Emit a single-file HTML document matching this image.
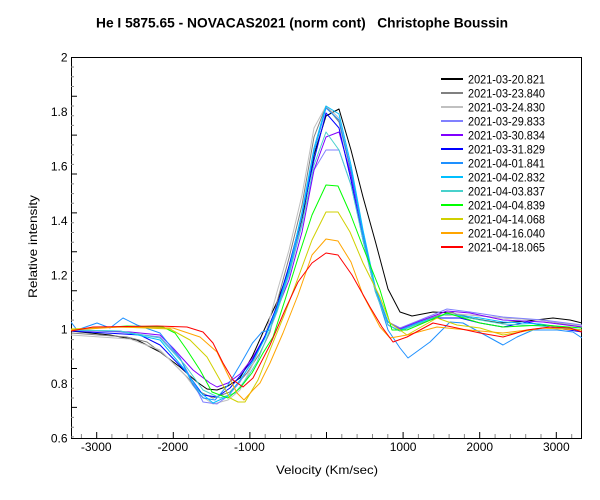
<!DOCTYPE html>
<html><head><meta charset="utf-8"><style>
html,body{margin:0;padding:0;background:#fff;}
svg{display:block;font-family:"Liberation Sans",Arial,sans-serif;}
text{white-space:pre;}
</style></head><body>
<svg width="600" height="500" viewBox="0 0 600 500" xmlns="http://www.w3.org/2000/svg">
<rect width="600" height="500" fill="#fff"/>
<defs><clipPath id="pc"><rect x="71" y="57" width="511" height="382"/></clipPath></defs>

<text x="96" y="27.3" font-size="14" font-weight="bold" textLength="412" lengthAdjust="spacingAndGlyphs">He I 5875.65 - NOVACAS2021 (norm cont)   Christophe Boussin</text>

<!-- frame -->
<rect x="71.5" y="57.5" width="510" height="381" fill="none" stroke="#000" stroke-width="1"/>

<!-- y ticks -->
<g stroke="#888" stroke-width="1">
<path d="M71 67.0h3M71 76.7h3M71 86.5h3M71 106.0h3M71 115.7h3M71 125.4h3M71 144.9h3M71 154.7h3M71 164.4h3M71 183.9h3M71 193.6h3M71 203.3h3M71 222.8h3M71 232.5h3M71 242.3h3M71 261.7h3M71 271.5h3M71 281.2h3M71 300.7h3M71 310.4h3M71 320.1h3M71 339.6h3M71 349.3h3M71 359.1h3M71 378.5h3M71 388.3h3M71 398.0h3M71 417.4h3M71 427.2h3M71 436.9h3"/>
</g>
<g stroke="#000" stroke-width="1">
<path d="M71 96.2h6M71 135.1h6M71 174.0h6M71 212.9h6M71 251.8h6M71 290.7h6M71 329.6h6M71 368.5h6M71 407.4h6"/>
</g>
<!-- x ticks -->
<g stroke="#888" stroke-width="1">
<path d="M81.4 438v-4M111.9 438v-4M127.3 438v-4M142.6 438v-4M157.9 438v-4M188.6 438v-4M203.9 438v-4M219.2 438v-4M234.6 438v-4M265.2 438v-4M280.5 438v-4M295.9 438v-4M311.2 438v-4M341.8 438v-4M357.1 438v-4M372.5 438v-4M387.8 438v-4M418.4 438v-4M433.8 438v-4M449.1 438v-4M464.4 438v-4M495.1 438v-4M510.4 438v-4M525.7 438v-4M541.0 438v-4M571.7 438v-4"/>
</g>
<g stroke="#000" stroke-width="1">
<path d="M96.7 438v-6M173.3 438v-6M249.9 438v-6M326.5 438v-6M403.1 438v-6M479.7 438v-6M556.3 438v-6"/>
</g>

<!-- y labels -->
<g font-size="12" text-anchor="end" fill="#000">
<text x="67.5" y="61.6">2</text>
<text x="67.5" y="116.0">1.8</text>
<text x="67.5" y="170.4">1.6</text>
<text x="67.5" y="224.8">1.4</text>
<text x="67.5" y="279.3">1.2</text>
<text x="67.5" y="333.7">1</text>
<text x="67.5" y="388.1">0.8</text>
<text x="67.5" y="442.5">0.6</text>
</g>
<!-- x labels -->
<g font-size="12" text-anchor="middle" fill="#000">
<text x="96.2" y="451">-3000</text>
<text x="172.8" y="451">-2000</text>
<text x="249.4" y="451">-1000</text>
<text x="403.1" y="451">1000</text>
<text x="479.7" y="451">2000</text>
<text x="556.3" y="451">3000</text>
</g>
<text x="276" y="474" font-size="12" textLength="102" lengthAdjust="spacingAndGlyphs">Velocity (Km/sec)</text>
<text transform="translate(37,298) rotate(-90)" font-size="12" textLength="103" lengthAdjust="spacingAndGlyphs">Relative intensity</text>

<!-- series -->
<g clip-path="url(#pc)" fill="none" stroke-width="1" stroke-linejoin="round">
<polyline stroke="#000000" points="71,331 110,335 137,340 160,352 180,367 197,382 207,389 217,390 228,386 240,378 252.5,356 265,328 277,302 289,270 302,220 314,155 326,116 339,109 351,150 363,197 375.5,242 388,289 400,312 412,316 433,312 453,313 470,318 500,323 527,321 553,318 570,320 582,323"/>
<polyline stroke="#808080" points="71,333 127,337 147,342 167,357 187,377 200,392 213,398 230,392 247,373 260,353 270,332 277,302 289,258 302,205 314,137 326,106 339,122 351,172 363,235 375.5,290 388,322 400,328 420,322 440,315 470,315 503,318 540,320 582,327"/>
<polyline stroke="#c0c0c0" points="71,335 130,339 160,350 185,375 200,395 213,404 228,400 240,390 252.5,365 265,336 277,292 289,250 302,195 314,128 326,106 339,118 351,170 363,235 375.5,290 388,322 400,328 420,324 447,313 480,316 503,318 540,320 582,326"/>
<polyline stroke="#8080ff" points="71,330 120,332 160,337 180,358 193,382 203,402 217,404 228,396 240,382 252.5,360 265,336 277,306 289,272 302,222 314,170 326,150 339,150 351,185 363,238 375.5,290 388,322 400,328 420,320 447,309 470,312 503,317 543,320 582,325"/>
<polyline stroke="#8000ff" points="71,330 130,332 160,335 173,348 193,370 210,383 217,387 228,383 240,374 252.5,358 265,336 277,310 289,280 302,232 314,170 326,137 339,132 351,175 363,235 375.5,290 388,322 400,329 420,321 447,311 470,313 503,320 543,322 582,327"/>
<polyline stroke="#0000ff" points="71,331 140,335 160,345 187,373 203,395 217,397 230,388 240,376 252.5,360 265,336 277,306 289,266 302,215 314,160 326,113 339,128 351,180 363,240 375.5,292 388,325 400,331 420,323 437,318 460,318 480,323 503,327 527,322 550,327 582,332"/>
<polyline stroke="#1e90ff" points="71,322 77,330 97,323 110,328 123,318 137,325 160,333 180,358 193,385 203,398 215,400 228,385 240,365 252.5,343 262,332 270,330 277,310 289,272 302,215 314,152 326,108 339,120 351,170 363,235 375.5,290 388,330 400,348 408,358 430,342 450,322 463,323 503,345 517,337 533,330 557,330 573,332 582,338"/>
<polyline stroke="#00bfff" points="71,330 120,331 160,340 185,370 200,392 213,403 228,396 240,380 252.5,362 265,338 277,308 289,270 302,212 314,148 326,106 339,114 351,165 363,230 375.5,288 388,322 400,330 420,322 447,314 480,318 503,322 540,324 582,330"/>
<polyline stroke="#48d1cc" points="71,330 120,331 160,338 185,365 203,390 220,398 235,393 247,378 257,362 265,342 277,312 289,275 302,225 314,165 326,132 339,150 351,185 363,240 375.5,292 388,325 400,331 420,323 447,314 480,320 503,324 540,326 582,330"/>
<polyline stroke="#00ff00" points="71,330 127,326 163,327 175,333 187,350 200,370 212,392 228,398 240,388 252,373 263,353 273,337 285,300 298,258 312,215 326,185 338,186 350,213 363,247 380,290 392,330 407,330 447,313 480,323 503,327 543,325 582,328"/>
<polyline stroke="#d0d000" points="71,329 120,327 170,329 190,340 207,357 220,380 230,398 238,402 245,402 258,380 270,350 285,313 298,278 312,240 326,212 338,212 350,232 363,263 380,297 390,323 407,335 437,318 457,325 480,328 503,335 543,328 582,330"/>
<polyline stroke="#ffa500" points="71,330 120,327 173,328 200,337 217,352 227,373 237,393 244,400 253,390 260,383 270,363 283,333 298,295 312,255 326,239 338,241 351,262 363,295 380,327 390,338 407,335 437,327 457,329 503,333 543,328 582,330"/>
<polyline stroke="#ff0000" points="71,331 93,327 157,326 187,327 203,332 213,343 223,363 233,380 243,387 253,378 270,345 285,310 298,282 312,263 326,253 338,255 352,275 370,307 382,327 393,342 407,337 433,323 457,328 480,333 503,337 527,330 550,327 570,328 582,332"/>
</g>

<!-- legend -->
<g stroke-width="2">
<line x1="441" y1="79" x2="463" y2="79" stroke="#000000"/>
<line x1="441" y1="93" x2="463" y2="93" stroke="#808080"/>
<line x1="441" y1="107" x2="463" y2="107" stroke="#c0c0c0"/>
<line x1="441" y1="121" x2="463" y2="121" stroke="#8080ff"/>
<line x1="441" y1="135" x2="463" y2="135" stroke="#8000ff"/>
<line x1="441" y1="149" x2="463" y2="149" stroke="#0000ff"/>
<line x1="441" y1="163" x2="463" y2="163" stroke="#1e90ff"/>
<line x1="441" y1="177" x2="463" y2="177" stroke="#00bfff"/>
<line x1="441" y1="191" x2="463" y2="191" stroke="#48d1cc"/>
<line x1="441" y1="205" x2="463" y2="205" stroke="#00ff00"/>
<line x1="441" y1="219" x2="463" y2="219" stroke="#d0d000"/>
<line x1="441" y1="233" x2="463" y2="233" stroke="#ffa500"/>
<line x1="441" y1="247" x2="463" y2="247" stroke="#ff0000"/>
</g>
<g font-size="12" fill="#000">
<text x="468" y="83.3" textLength="77" lengthAdjust="spacingAndGlyphs">2021-03-20.821</text>
<text x="468" y="97.3" textLength="77" lengthAdjust="spacingAndGlyphs">2021-03-23.840</text>
<text x="468" y="111.3" textLength="77" lengthAdjust="spacingAndGlyphs">2021-03-24.830</text>
<text x="468" y="125.3" textLength="77" lengthAdjust="spacingAndGlyphs">2021-03-29.833</text>
<text x="468" y="139.3" textLength="77" lengthAdjust="spacingAndGlyphs">2021-03-30.834</text>
<text x="468" y="153.3" textLength="77" lengthAdjust="spacingAndGlyphs">2021-03-31.829</text>
<text x="468" y="167.3" textLength="77" lengthAdjust="spacingAndGlyphs">2021-04-01.841</text>
<text x="468" y="181.3" textLength="77" lengthAdjust="spacingAndGlyphs">2021-04-02.832</text>
<text x="468" y="195.3" textLength="77" lengthAdjust="spacingAndGlyphs">2021-04-03.837</text>
<text x="468" y="209.3" textLength="77" lengthAdjust="spacingAndGlyphs">2021-04-04.839</text>
<text x="468" y="223.3" textLength="77" lengthAdjust="spacingAndGlyphs">2021-04-14.068</text>
<text x="468" y="237.3" textLength="77" lengthAdjust="spacingAndGlyphs">2021-04-16.040</text>
<text x="468" y="251.3" textLength="77" lengthAdjust="spacingAndGlyphs">2021-04-18.065</text>
</g>
</svg>
</body></html>
